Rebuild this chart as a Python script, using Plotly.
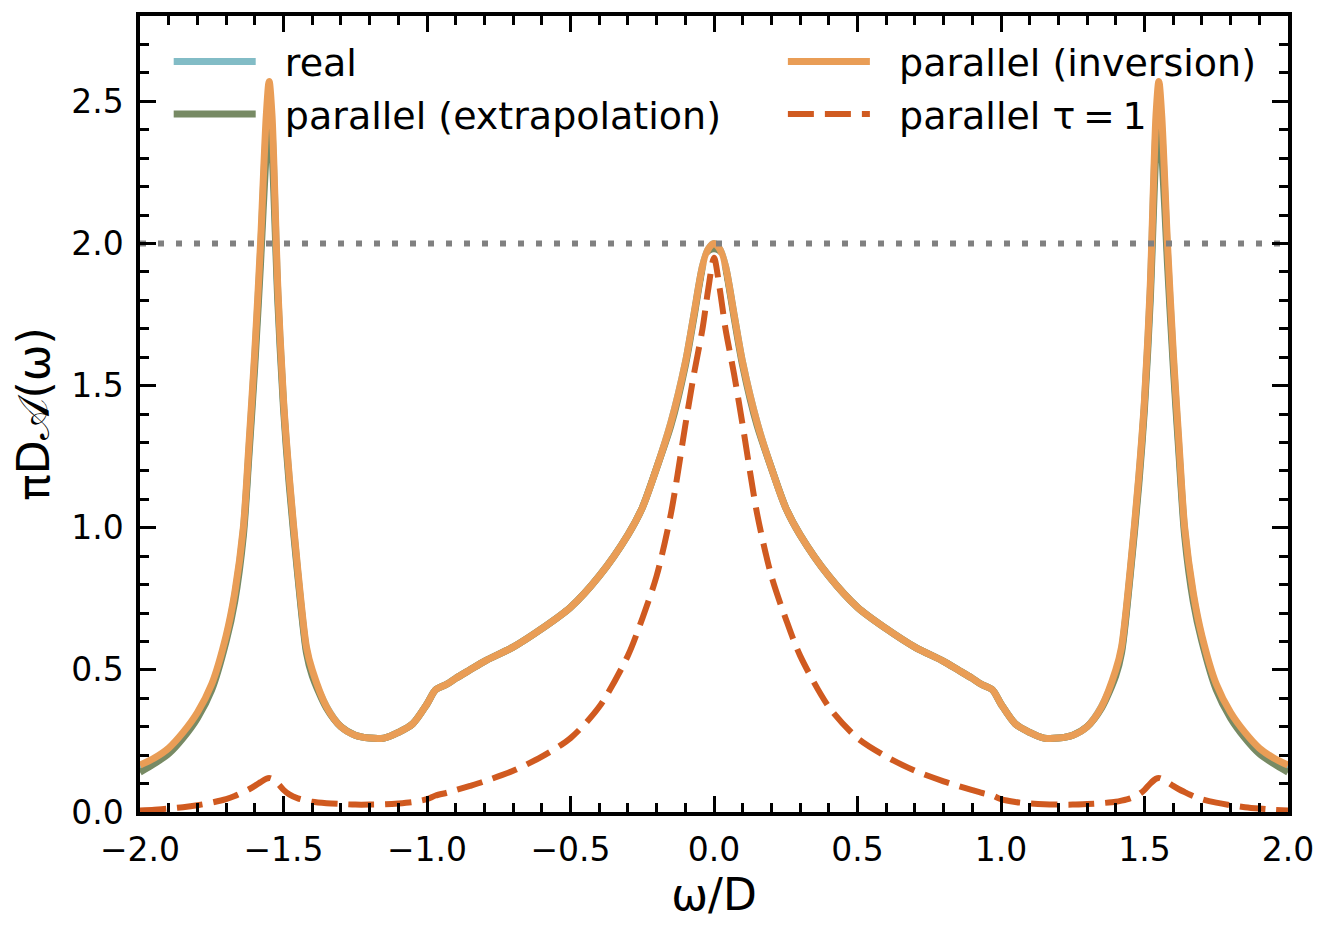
import plotly.graph_objects as go

# omega / D grid
omega = [-2.0, -1.95, -1.9, -1.85, -1.8, -1.75, -1.7, -1.67, -1.64, -1.62, -1.6, -1.58, -1.56, -1.55, -1.54,
         -1.52, -1.5, -1.48, -1.45, -1.42, -1.4, -1.35, -1.3, -1.25, -1.2, -1.15, -1.1, -1.05, -1.0, -0.97,
         -0.93, -0.9, -0.85, -0.8, -0.7, -0.6, -0.5, -0.4, -0.3, -0.25, -0.2, -0.15, -0.1, -0.07, -0.04, -0.02,
         0.0,
         0.02, 0.04, 0.07, 0.1, 0.15, 0.2, 0.25, 0.3, 0.4, 0.5, 0.6, 0.7, 0.8, 0.85, 0.9, 0.93, 0.97, 1.0,
         1.05, 1.1, 1.15, 1.2, 1.25, 1.3, 1.35, 1.4, 1.42, 1.45, 1.48, 1.5, 1.52, 1.54, 1.55, 1.56, 1.58, 1.6,
         1.62, 1.64, 1.67, 1.7, 1.75, 1.8, 1.85, 1.9, 1.95, 2.0]

real = [0.15, 0.18, 0.215, 0.27, 0.34, 0.44, 0.61, 0.76, 0.99, 1.28, 1.6, 1.97, 2.4, 2.5, 2.4,
        1.83, 1.44, 1.17, 0.84, 0.57, 0.49, 0.37, 0.3, 0.27, 0.26, 0.26, 0.28, 0.31, 0.38, 0.43,
        0.45, 0.47, 0.5, 0.53, 0.58, 0.645, 0.72, 0.83, 0.975, 1.07, 1.21, 1.37, 1.58, 1.75, 1.92, 1.98,
        2.0,
        1.98, 1.92, 1.75, 1.58, 1.37, 1.21, 1.07, 0.975, 0.83, 0.72, 0.645, 0.58, 0.53, 0.5, 0.47, 0.45, 0.43, 0.38,
        0.31, 0.28, 0.26, 0.26, 0.27, 0.3, 0.37, 0.49, 0.57, 0.84, 1.17, 1.44, 1.83, 2.4, 2.5, 2.4, 1.97, 1.6,
        1.28, 0.99, 0.76, 0.61, 0.44, 0.34, 0.27, 0.215, 0.18, 0.15]

extrapolation = [0.14, 0.17, 0.205, 0.26, 0.33, 0.43, 0.6, 0.74, 0.97, 1.26, 1.57, 1.93, 2.33, 2.45, 2.33,
                 1.8, 1.42, 1.15, 0.83, 0.56, 0.48, 0.365, 0.3, 0.27, 0.26, 0.26, 0.28, 0.31, 0.38, 0.43,
                 0.45, 0.47, 0.5, 0.53, 0.58, 0.645, 0.72, 0.83, 0.975, 1.07, 1.21, 1.36, 1.57, 1.74, 1.91, 1.96,
                 1.98,
                 1.96, 1.91, 1.74, 1.57, 1.36, 1.21, 1.07, 0.975, 0.83, 0.72, 0.645, 0.58, 0.53, 0.5, 0.47, 0.45, 0.43, 0.38,
                 0.31, 0.28, 0.26, 0.26, 0.27, 0.3, 0.365, 0.48, 0.56, 0.83, 1.15, 1.42, 1.8, 2.33, 2.45, 2.33, 1.93, 1.57,
                 1.26, 0.97, 0.74, 0.6, 0.43, 0.33, 0.26, 0.205, 0.17, 0.14]

inversion = [0.165, 0.19, 0.225, 0.28, 0.35, 0.45, 0.62, 0.77, 1.0, 1.3, 1.62, 2.0, 2.45, 2.57, 2.45,
             1.85, 1.45, 1.18, 0.85, 0.58, 0.5, 0.37, 0.3, 0.27, 0.26, 0.26, 0.28, 0.31, 0.38, 0.43,
             0.45, 0.47, 0.5, 0.53, 0.58, 0.645, 0.72, 0.83, 0.975, 1.07, 1.21, 1.37, 1.58, 1.75, 1.92, 1.98,
             2.0,
             1.98, 1.92, 1.75, 1.58, 1.37, 1.21, 1.07, 0.975, 0.83, 0.72, 0.645, 0.58, 0.53, 0.5, 0.47, 0.45, 0.43, 0.38,
             0.31, 0.28, 0.26, 0.26, 0.27, 0.3, 0.37, 0.5, 0.58, 0.85, 1.18, 1.45, 1.85, 2.45, 2.57, 2.45, 2.0, 1.62,
             1.3, 1.0, 0.77, 0.62, 0.45, 0.35, 0.28, 0.225, 0.19, 0.165]

tau1 = [0.005, 0.008, 0.012, 0.017, 0.024, 0.033, 0.045, 0.056, 0.07, 0.08, 0.092, 0.105, 0.117, 0.12, 0.117,
        0.1, 0.078, 0.062, 0.048, 0.04, 0.036, 0.031, 0.028, 0.026, 0.026, 0.027, 0.03, 0.035, 0.045, 0.058,
        0.068, 0.077, 0.092, 0.108, 0.145, 0.195, 0.26, 0.37, 0.55, 0.68, 0.83, 1.05, 1.36, 1.54, 1.70, 1.84,
        1.95,
        1.84, 1.70, 1.54, 1.36, 1.05, 0.83, 0.68, 0.55, 0.37, 0.26, 0.195, 0.145, 0.108, 0.092, 0.077, 0.068, 0.058, 0.045,
        0.035, 0.03, 0.027, 0.026, 0.026, 0.028, 0.031, 0.036, 0.04, 0.048, 0.062, 0.078, 0.1, 0.117, 0.12, 0.117, 0.105, 0.092,
        0.08, 0.07, 0.056, 0.045, 0.033, 0.024, 0.017, 0.012, 0.008, 0.005]

ref_level = 2.0

font = 'DejaVu Sans'
lw = 7
smooth = dict(shape='spline', smoothing=0.8)
pad = '\u00a0\u00a0'  # gap between legend line and label

fig = go.Figure()
fig.add_trace(go.Scatter(x=omega, y=real, mode='lines', name=pad + 'real',
                         line=dict(color='#82bcc6', width=lw, **smooth), legend='legend'))
fig.add_trace(go.Scatter(x=omega, y=extrapolation, mode='lines', name=pad + 'parallel (extrapolation)',
                         line=dict(color='#778a64', width=lw, **smooth), legend='legend'))
fig.add_trace(go.Scatter(x=omega, y=inversion, mode='lines', name=pad + 'parallel (inversion)',
                         line=dict(color='#e99d56', width=lw, **smooth), legend='legend2'))
# white outline under the dashed curve
fig.add_trace(go.Scatter(x=omega, y=tau1, mode='lines', showlegend=False, hoverinfo='skip',
                         line=dict(color='white', width=lw + 4, **smooth)))
fig.add_trace(go.Scatter(x=omega, y=tau1, mode='lines', name=pad + 'parallel τ\u2009=\u20091',
                         line=dict(color='#d05a20', width=lw - 1, dash='26px,11px', **smooth),
                         legend='legend2'))
fig.add_trace(go.Scatter(x=[omega[0], omega[-1]], y=[ref_level, ref_level], mode='lines', showlegend=False,
                         hoverinfo='skip', line=dict(color='#808080', width=6, dash='6px,12px')))

axis_style = dict(showline=True, linewidth=3.5, linecolor='black', mirror='allticks',
                  ticks='inside', ticklen=16, tickwidth=3, tickcolor='black',
                  showgrid=False, zeroline=False, tickformat='.1f', ticklabelstandoff=6,
                  tickfont=dict(family=font, size=33, color='black'),
                  minor=dict(ticks='inside', ticklen=9, tickwidth=2.5, tickcolor='black', dtick=0.1))

fig.update_xaxes(range=[-2, 2], dtick=0.5, tick0=0,
                 title=dict(text='ω/D', font=dict(family=font, size=44, color='black'), standoff=4),
                 **axis_style)
fig.update_yaxes(range=[0, 2.8], dtick=0.5, tick0=0,
                 title=dict(text='πD𝒜(ω)', font=dict(family=font, size=44, color='black'), standoff=14),
                 **axis_style)

legend_style = dict(font=dict(family=font, size=38, color='black'), bgcolor='rgba(0,0,0,0)',
                    traceorder='grouped', tracegroupgap=10, yanchor='top', xanchor='left',
                    itemwidth=82)

fig.update_layout(
    width=1327, height=932,
    margin=dict(l=132, r=47, t=4, b=128),
    plot_bgcolor='white', paper_bgcolor='white',
    legend=dict(x=0.025, y=0.982, **legend_style),
    legend2=dict(x=0.56, y=0.982, **legend_style),
)

fig.write_html("out.html")
